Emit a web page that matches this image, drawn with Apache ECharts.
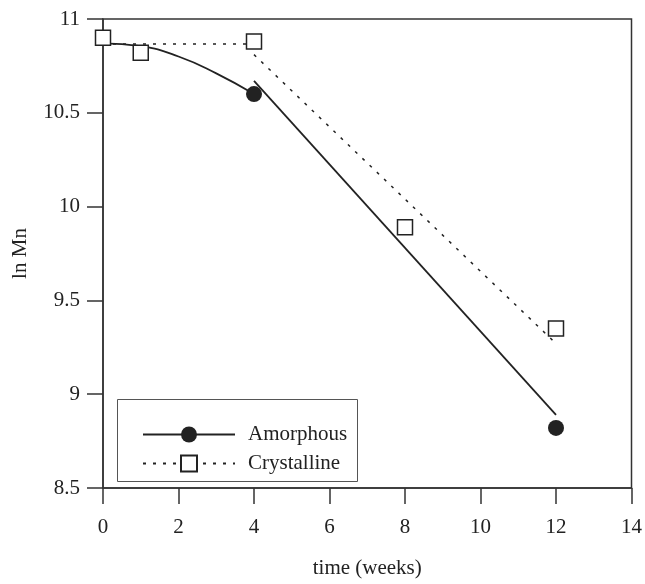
<!DOCTYPE html>
<html>
<head>
<meta charset="utf-8">
<script src="https://cdn.jsdelivr.net/npm/echarts@6/dist/echarts.min.js"></script>
<style>html,body{margin:0;padding:0;background:#fff;}#c{width:645px;height:584px;}</style>
</head>
<body>
<div id="c"></div>
<script>
// Measured points
var amorphousPts = [[4, 10.60], [12, 8.82]];
var crystallinePts = [[0, 10.90], [1, 10.82], [4, 10.88], [8, 9.89], [12, 9.35]];
// Fitted lines
var amorphousCurve = [[0, 10.87], [1, 10.855], [2, 10.80], [3, 10.71], [4, 10.60]];
var amorphousLine = [[4, 10.67], [12, 8.89]];
var crystallineFlat = [[0, 10.867], [4, 10.867]];
var crystallineLine = [[4, 10.81], [12, 9.27]];
var xTicks = {min: 0, max: 14, interval: 2};
var yTicks = {min: 8.5, max: 11, interval: 0.5};

var ink = '#222';
var font = 'Liberation Serif';
var chart = echarts.init(document.getElementById('c'), null, {renderer: 'canvas'});
chart.setOption({
  animation: false,
  backgroundColor: '#fff',
  textStyle: {fontFamily: font, color: ink},
  grid: {left: 103, right: 12, top: 19, bottom: 89, show: true, borderColor: '#333', borderWidth: 1.5},
  graphic: [{
    type: 'rect', left: 117, top: 399, z: 0,
    shape: {width: 240, height: 82},
    style: {fill: '#fff', stroke: '#555', lineWidth: 1}
  }],
  legend: {
    data: ['Amorphous', 'Crystalline'],
    orient: 'vertical', left: 137, top: 419,
    itemWidth: 92, itemHeight: 20, itemGap: 8,
    selectedMode: false,
    textStyle: {fontFamily: font, fontSize: 21, color: ink, padding: [0, 0, 0, 8]}
  },
  xAxis: {
    type: 'value', min: xTicks.min, max: xTicks.max, interval: xTicks.interval,
    name: 'time (weeks)', nameLocation: 'middle', nameGap: 70,
    nameTextStyle: {fontFamily: font, fontSize: 21, color: ink},
    axisLine: {show: true, onZero: false, lineStyle: {color: '#333', width: 1.5}},
    axisTick: {show: true, inside: false, length: 16, lineStyle: {color: '#333', width: 1.5}},
    axisLabel: {fontFamily: font, fontSize: 21, color: ink, margin: 29},
    splitLine: {show: false}
  },
  yAxis: {
    type: 'value', min: yTicks.min, max: yTicks.max, interval: yTicks.interval,
    name: 'ln Mn', nameLocation: 'middle', nameGap: 72,
    nameTextStyle: {fontFamily: font, fontSize: 21, color: ink},
    axisLine: {show: true, onZero: false, lineStyle: {color: '#333', width: 1.5}},
    axisTick: {show: true, inside: false, length: 16, lineStyle: {color: '#333', width: 1.5}},
    axisLabel: {fontFamily: font, fontSize: 21, color: ink, margin: 23},
    splitLine: {show: false}
  },
  series: [
    {name: 'Amorphous', type: 'line', data: amorphousCurve, smooth: true, symbol: 'circle', showSymbol: false,
     lineStyle: {color: ink, width: 1.8}, itemStyle: {color: ink}, z: 2},
    {name: 'Amorphous', type: 'line', data: amorphousLine, symbol: 'circle', showSymbol: false,
     lineStyle: {color: ink, width: 1.8}, itemStyle: {color: ink}, z: 2},
    {name: 'Amorphous', type: 'scatter', data: amorphousPts, symbol: 'circle', symbolSize: 16,
     itemStyle: {color: ink, opacity: 1}, z: 4},
    {name: 'Crystalline', type: 'line', data: crystallineFlat, symbol: 'rect', showSymbol: false,
     lineStyle: {color: ink, width: 1.5, type: [3, 7]}, itemStyle: {color: '#fff', borderColor: ink, borderWidth: 1.5}, z: 2},
    {name: 'Crystalline', type: 'line', data: crystallineLine, symbol: 'rect', showSymbol: false,
     lineStyle: {color: ink, width: 1.5, type: [3, 7]}, itemStyle: {color: '#fff', borderColor: ink, borderWidth: 1.5}, z: 2},
    {name: 'Crystalline', type: 'scatter', data: crystallinePts, symbol: 'rect', symbolSize: 15,
     itemStyle: {color: '#fff', borderColor: ink, borderWidth: 1.5, opacity: 1}, z: 5}
  ]
});
</script>
</body>
</html>
